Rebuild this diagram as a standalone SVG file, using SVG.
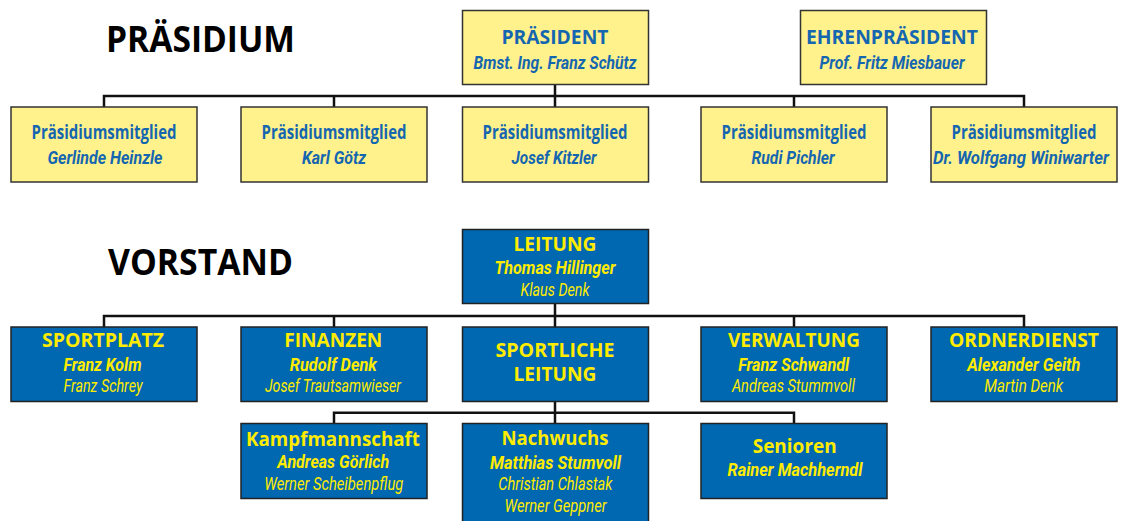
<svg xmlns="http://www.w3.org/2000/svg" width="1126" height="521" viewBox="0 0 1126 521">
<style>
.ybox{fill:#FFF28C;stroke:#333;stroke-width:1.5}
.bbox{fill:#0067B1;stroke:#222;stroke-width:1.5}
.hd{font-family:"Open Sans","Liberation Sans",sans-serif;font-weight:700;font-size:36px;fill:#000}
.t{font-family:"Open Sans","Liberation Sans",sans-serif;font-weight:700;font-size:19.5px;text-anchor:middle}
.bi{font-family:Roboto,"Liberation Sans",sans-serif;font-weight:700;font-style:italic;font-size:17.5px;text-anchor:middle}
.li{font-family:Roboto,"Liberation Sans",sans-serif;font-weight:400;font-style:italic;font-size:17.5px;text-anchor:middle}
.yb text{fill:#1566B0}
.bb text{fill:#FFEC00}
.con{fill:none;stroke:#111;stroke-width:2.5}
</style>
<text class="hd" x="106" y="52" textLength="189" lengthAdjust="spacingAndGlyphs">PRÄSIDIUM</text>
<text class="hd" x="108" y="275" textLength="185" lengthAdjust="spacingAndGlyphs">VORSTAND</text>
<g id="connectors">
<path class="con" d="M555 84V107M104 107V96H1024V107M334 96V107M794 96V107"/>
<path class="con" d="M555 303V327M104 327V316H1024V327M334 316V327M794 316V327"/>
<path class="con" d="M555 401V423M334 423V412.7H794V423"/>
</g>
<g id="praesident" class="yb">
<rect class="ybox" x="462.5" y="10.5" width="186" height="74"/>
<text class="t" x="555" y="44.3" textLength="107" lengthAdjust="spacingAndGlyphs">PRÄSIDENT</text>
<text class="bi" x="555" y="69" textLength="163" lengthAdjust="spacingAndGlyphs">Bmst. Ing. Franz Schütz</text>
</g>
<g id="ehrenpraesident" class="yb">
<rect class="ybox" x="800.5" y="10.5" width="186" height="74"/>
<text class="t" x="892" y="43.8" textLength="172" lengthAdjust="spacingAndGlyphs">EHRENPRÄSIDENT</text>
<text class="bi" x="892" y="69" textLength="145" lengthAdjust="spacingAndGlyphs">Prof. Fritz Miesbauer</text>
</g>
<g id="pm1" class="yb">
<rect class="ybox" x="11" y="107" width="186" height="75"/>
<text class="t" x="104" y="139.3" textLength="145" lengthAdjust="spacingAndGlyphs">Präsidiumsmitglied</text>
<text class="bi" x="105" y="164" textLength="115" lengthAdjust="spacingAndGlyphs">Gerlinde Heinzle</text>
</g>
<g id="pm2" class="yb">
<rect class="ybox" x="241" y="107" width="186" height="75"/>
<text class="t" x="334" y="139.3" textLength="145" lengthAdjust="spacingAndGlyphs">Präsidiumsmitglied</text>
<text class="bi" x="334" y="164" textLength="64" lengthAdjust="spacingAndGlyphs">Karl Götz</text>
</g>
<g id="pm3" class="yb">
<rect class="ybox" x="462.5" y="107" width="186" height="75"/>
<text class="t" x="555" y="139.3" textLength="145" lengthAdjust="spacingAndGlyphs">Präsidiumsmitglied</text>
<text class="bi" x="554" y="164" textLength="85" lengthAdjust="spacingAndGlyphs">Josef Kitzler</text>
</g>
<g id="pm4" class="yb">
<rect class="ybox" x="701" y="107" width="186" height="75"/>
<text class="t" x="794" y="139.3" textLength="145" lengthAdjust="spacingAndGlyphs">Präsidiumsmitglied</text>
<text class="bi" x="793" y="164" textLength="83" lengthAdjust="spacingAndGlyphs">Rudi Pichler</text>
</g>
<g id="pm5" class="yb">
<rect class="ybox" x="931" y="107" width="186" height="75"/>
<text class="t" x="1024" y="139.3" textLength="145" lengthAdjust="spacingAndGlyphs">Präsidiumsmitglied</text>
<text class="bi" x="1021" y="164" textLength="176" lengthAdjust="spacingAndGlyphs">Dr. Wolfgang Winiwarter</text>
</g>
<g id="leitung" class="bb">
<rect class="bbox" x="462.5" y="229.5" width="186" height="74"/>
<text class="t" x="555" y="250.7" textLength="83" lengthAdjust="spacingAndGlyphs">LEITUNG</text>
<text class="bi" x="555" y="274.3" textLength="121" lengthAdjust="spacingAndGlyphs">Thomas Hillinger</text>
<text class="li" x="555" y="296" textLength="69" lengthAdjust="spacingAndGlyphs">Klaus Denk</text>
</g>
<g id="sportplatz" class="bb">
<rect class="bbox" x="11" y="327" width="186" height="74.5"/>
<text class="t" x="103" y="346.7" textLength="122" lengthAdjust="spacingAndGlyphs">SPORTPLATZ</text>
<text class="bi" x="102.5" y="371" textLength="78" lengthAdjust="spacingAndGlyphs">Franz Kolm</text>
<text class="li" x="103" y="391.7" textLength="79" lengthAdjust="spacingAndGlyphs">Franz Schrey</text>
</g>
<g id="finanzen" class="bb">
<rect class="bbox" x="241" y="327" width="186" height="74.5"/>
<text class="t" x="333.3" y="346.7" textLength="98" lengthAdjust="spacingAndGlyphs">FINANZEN</text>
<text class="bi" x="333.3" y="371" textLength="87" lengthAdjust="spacingAndGlyphs">Rudolf Denk</text>
<text class="li" x="333" y="391.7" textLength="136" lengthAdjust="spacingAndGlyphs">Josef Trautsamwieser</text>
</g>
<g id="sportliche-leitung" class="bb">
<rect class="bbox" x="462.5" y="327" width="186" height="74.5"/>
<text class="t" x="555" y="356.7" textLength="119" lengthAdjust="spacingAndGlyphs">SPORTLICHE</text>
<text class="t" x="555" y="381.3" textLength="83" lengthAdjust="spacingAndGlyphs">LEITUNG</text>
</g>
<g id="verwaltung" class="bb">
<rect class="bbox" x="701" y="327" width="186" height="74.5"/>
<text class="t" x="794" y="346.7" textLength="132" lengthAdjust="spacingAndGlyphs">VERWALTUNG</text>
<text class="bi" x="793.7" y="371" textLength="111" lengthAdjust="spacingAndGlyphs">Franz Schwandl</text>
<text class="li" x="793.4" y="391.7" textLength="123" lengthAdjust="spacingAndGlyphs">Andreas Stummvoll</text>
</g>
<g id="ordnerdienst" class="bb">
<rect class="bbox" x="931" y="327" width="186" height="74.5"/>
<text class="t" x="1024" y="346.7" textLength="150" lengthAdjust="spacingAndGlyphs">ORDNERDIENST</text>
<text class="bi" x="1023.7" y="371" textLength="113" lengthAdjust="spacingAndGlyphs">Alexander Geith</text>
<text class="li" x="1023.8" y="391.7" textLength="79" lengthAdjust="spacingAndGlyphs">Martin Denk</text>
</g>
<g id="kampfmannschaft" class="bb">
<rect class="bbox" x="241" y="423.5" width="186" height="75"/>
<text class="t" x="333" y="445.7" textLength="174" lengthAdjust="spacingAndGlyphs">Kampfmannschaft</text>
<text class="bi" x="333.2" y="468.3" textLength="112" lengthAdjust="spacingAndGlyphs">Andreas Görlich</text>
<text class="li" x="333.8" y="490" textLength="139" lengthAdjust="spacingAndGlyphs">Werner Scheibenpflug</text>
</g>
<g id="nachwuchs" class="bb">
<rect class="bbox" x="462.5" y="423.5" width="186" height="110"/>
<text class="t" x="555" y="445" textLength="107" lengthAdjust="spacingAndGlyphs">Nachwuchs</text>
<text class="bi" x="555.5" y="469.3" textLength="131" lengthAdjust="spacingAndGlyphs">Matthias Stumvoll</text>
<text class="li" x="555.3" y="490" textLength="114" lengthAdjust="spacingAndGlyphs">Christian Chlastak</text>
<text class="li" x="555.5" y="512.3" textLength="102" lengthAdjust="spacingAndGlyphs">Werner Geppner</text>
</g>
<g id="senioren" class="bb">
<rect class="bbox" x="701" y="423.5" width="186" height="75"/>
<text class="t" x="794.7" y="453.3" textLength="84" lengthAdjust="spacingAndGlyphs">Senioren</text>
<text class="bi" x="795" y="476" textLength="135" lengthAdjust="spacingAndGlyphs">Rainer Machherndl</text>
</g>
</svg>
